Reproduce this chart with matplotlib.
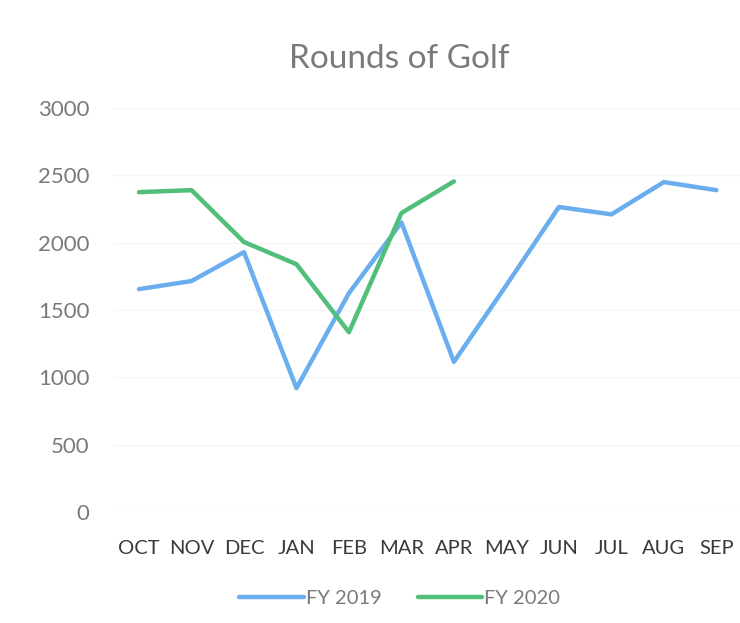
import matplotlib.pyplot as plt

months = ['OCT', 'NOV', 'DEC', 'JAN', 'FEB', 'MAR', 'APR', 'MAY', 'JUN', 'JUL', 'AUG', 'SEP']
fy2019 = [1655, 1715, 1930, 920, 1625, 2150, 1115, 1685, 2265, 2210, 2450, 2390]
fy2020 = [2375, 2390, 2005, 1840, 1335, 2220, 2455]

plt.rcParams['font.family'] = ['Lato', 'DejaVu Sans']

fig = plt.figure(figsize=(7.4, 6.23), dpi=100)
ax = fig.add_axes([113 / 740, (623 - 512) / 623, (740 - 113) / 740, (512 - 108) / 623])

x = list(range(len(months)))
ax.plot(x, fy2019, color='#6aaef0', lw=3.2, label='FY 2019', solid_capstyle='round')
ax.plot(x[:len(fy2020)], fy2020, color='#4fbf7a', lw=3.2, label='FY 2020', solid_capstyle='round')

ax.set_xlim(-0.495, 11.45)
ax.set_ylim(0, 3000)
ax.set_yticks(range(0, 3001, 500))
ax.set_xticks(x)
ax.set_xticklabels(months)
ax.grid(axis='y', color='#f5f5f5', lw=1)
ax.set_axisbelow(True)
for s in ax.spines.values():
    s.set_visible(False)
ax.tick_params(length=0)
ax.tick_params(axis='y', labelsize=16, labelcolor='#7a7a7a', pad=17)
ax.tick_params(axis='x', labelsize=14.5, labelcolor='#3a3a3a', pad=20)

fig.text(0.54, 0.905, 'Rounds of Golf', ha='center', va='center', fontsize=24, color='#7a7a7a')

fig.legend(loc='center', bbox_to_anchor=(0.54, 0.04), ncol=2, frameon=False,
           fontsize=14.5, labelcolor='#7a7a7a', handlelength=3.2, handletextpad=0.1,
           columnspacing=1.8)

fig.savefig('out.png', dpi=100, facecolor='white')
